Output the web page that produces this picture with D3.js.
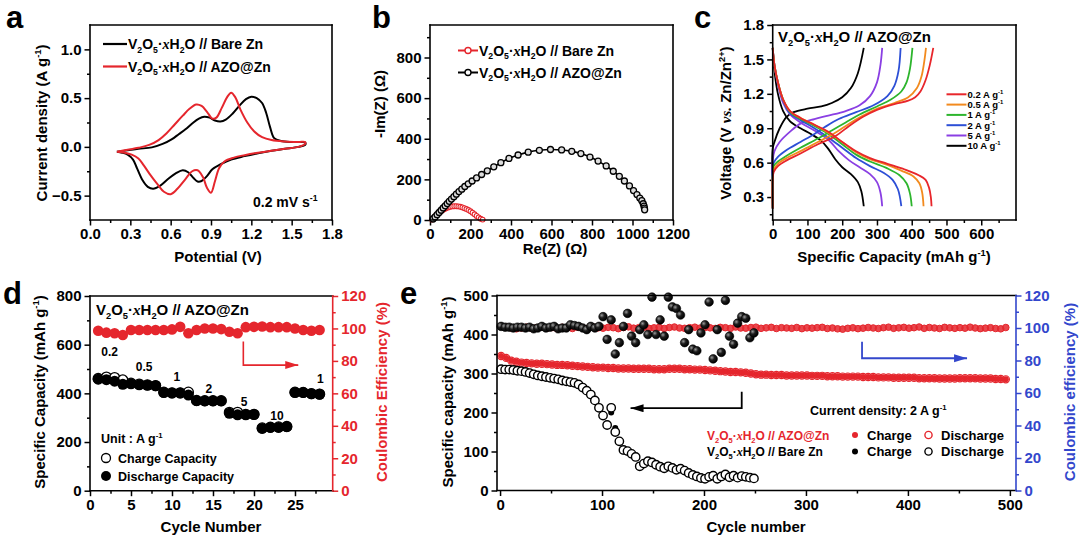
<!DOCTYPE html>
<html><head><meta charset="utf-8">
<script src="https://cdn.jsdelivr.net/npm/d3@7"></script>
<style>body{margin:0;background:#fff}</style>
</head><body>
<script>
// ---------------- DATA ----------------
// (a) cyclic voltammetry: [potential V, current A/g], forward then reverse sweep
const cvBareZn = [[0.20,-0.05],[0.28,-0.035],[0.36,-0.02],[0.46,-0.005],[0.54,0.03],[0.61,0.08],[0.66,0.13],[0.71,0.18],[0.76,0.24],[0.81,0.29],[0.85,0.31],[0.89,0.30],[0.93,0.27],[0.97,0.26],[1.01,0.28],[1.06,0.34],[1.11,0.42],[1.16,0.49],[1.20,0.515],[1.24,0.50],[1.28,0.45],[1.31,0.35],[1.34,0.20],[1.37,0.09],[1.42,0.06],[1.50,0.05],[1.56,0.05],[1.60,0.045],
  [1.60,0.02],[1.55,0.0],[1.45,-0.02],[1.35,-0.04],[1.25,-0.065],[1.15,-0.095],[1.05,-0.13],[0.97,-0.18],[0.91,-0.23],[0.87,-0.30],[0.83,-0.35],[0.80,-0.355],[0.77,-0.32],[0.73,-0.26],[0.69,-0.24],[0.64,-0.27],[0.58,-0.33],[0.52,-0.40],[0.47,-0.43],[0.43,-0.41],[0.39,-0.34],[0.35,-0.22],[0.32,-0.13],[0.28,-0.08],[0.24,-0.06],[0.20,-0.05]];
const cvAzoZn = [[0.20,-0.05],[0.28,-0.03],[0.36,-0.01],[0.44,0.02],[0.51,0.07],[0.57,0.14],[0.63,0.23],[0.69,0.32],[0.74,0.39],[0.79,0.435],[0.83,0.42],[0.87,0.36],[0.91,0.29],[0.94,0.30],[0.98,0.40],[1.02,0.51],[1.05,0.555],[1.08,0.51],[1.12,0.38],[1.17,0.25],[1.22,0.16],[1.28,0.10],[1.35,0.07],[1.45,0.055],[1.55,0.05],[1.60,0.05],
  [1.60,0.03],[1.55,0.0],[1.45,-0.02],[1.35,-0.04],[1.25,-0.06],[1.15,-0.085],[1.07,-0.11],[1.0,-0.15],[0.96,-0.22],[0.93,-0.35],[0.90,-0.47],[0.87,-0.42],[0.84,-0.31],[0.80,-0.24],[0.76,-0.25],[0.71,-0.33],[0.65,-0.43],[0.60,-0.485],[0.55,-0.46],[0.50,-0.38],[0.45,-0.29],[0.40,-0.19],[0.36,-0.12],[0.31,-0.08],[0.26,-0.06],[0.20,-0.05]];
const aXTicks = [0,0.3,0.6,0.9,1.2,1.5,1.8];
const aYTicks = [-0.5,0,0.5,1.0];

// (b) Nyquist: [Re(Z), -Im(Z)]
const eisBareZn = [[10,2],[20,12],[30,22],[40,32],[50,40],[60,47],[70,53],[80,58],[90,62],[100,65],[110,67],[120,68],[130,68],[140,67],[150,65],[160,62],[170,58],[180,54],[190,49],[200,43],[210,36],[220,28],[230,20],[240,13],[250,6],[260,2]];
const eisAzoZn = [[15,5],[25,15],[35,26],[45,37],[55,48],[65,59],[75,70],[85,81],[95,92],[106,103],[118,115],[130,127],[143,140],[157,152],[172,165],[189,178],[208,192],[230,207],[255,224],[283,242],[315,262],[350,282],[390,303],[435,320],[485,334],[540,343],[595,347],[650,345],[700,338],[745,327],[790,310],[830,290],[870,266],[905,240],[935,215],[960,192],[985,168],[1005,145],[1022,125],[1036,108],[1046,95],[1053,80],[1057,68],[1059,58],[1060,50]];
const bXTicks = [0,200,400,600,800,1000,1200];
const bYTicks = [0,200,400,600,800];

// (c) galvanostatic charge/discharge: [capacity mAh/g, voltage V]
const gcdLabels = ['0.2 A g^{-1}','0.5 A g^{-1}','1 A g^{-1}','2 A g^{-1}','5 A g^{-1}','10 A g^{-1}'];
const gcdColors = ['#e8262b','#f28a1e','#2db52d','#2d4fd6','#8a3fe3','#000000'];
const chg02 = [[0,0.2],[0,0.45],[3,0.52],[15,0.57],[40,0.62],[80,0.68],[130,0.76],[180,0.83],[220,0.92],[260,1.0],[300,1.06],[350,1.11],[390,1.14],[410,1.17],[425,1.22],[440,1.32],[452,1.45],[462,1.6]];
const chg05 = [[0,0.2],[0,0.47],[3,0.54],[15,0.59],[40,0.64],[80,0.70],[130,0.78],[180,0.86],[220,0.94],[260,1.01],[300,1.07],[350,1.12],[390,1.17],[415,1.25],[428,1.35],[436,1.48],[441,1.6]];
const chg1  = [[0,0.2],[0,0.5],[3,0.57],[15,0.61],[40,0.66],[80,0.73],[130,0.81],[170,0.88],[210,0.95],[250,1.02],[300,1.09],[340,1.15],[370,1.22],[385,1.3],[395,1.42],[402,1.6]];
const chg2  = [[0,0.2],[0,0.55],[3,0.6],[15,0.65],[40,0.71],[80,0.78],[120,0.85],[150,0.91],[190,0.98],[240,1.04],[290,1.1],[330,1.18],[350,1.27],[362,1.4],[368,1.6]];
const chg5  = [[0,0.2],[0,0.62],[5,0.7],[20,0.78],[50,0.87],[80,0.94],[120,0.98],[160,1.01],[210,1.05],[250,1.1],[280,1.18],[300,1.3],[310,1.45],[315,1.6]];
const chg10 = [[0,0.2],[0,0.72],[5,0.78],[20,0.9],[40,1.0],[60,1.04],[100,1.07],[140,1.09],[170,1.12],[200,1.17],[225,1.25],[245,1.38],[262,1.6]];
const dis02 = [[0,1.6],[5,1.45],[15,1.3],[30,1.15],[50,1.05],[80,0.99],[120,0.93],[160,0.87],[200,0.78],[240,0.7],[280,0.64],[330,0.59],[380,0.54],[420,0.49],[440,0.45],[450,0.38],[455,0.3],[457,0.22]];
const dis05 = [[0,1.6],[5,1.45],[15,1.3],[30,1.15],[50,1.05],[80,0.99],[120,0.93],[160,0.86],[200,0.78],[240,0.69],[280,0.63],[330,0.58],[370,0.53],[405,0.48],[422,0.42],[430,0.34],[434,0.22]];
const dis1  = [[0,1.6],[5,1.45],[15,1.3],[30,1.15],[50,1.04],[80,0.98],[120,0.92],[160,0.85],[200,0.76],[240,0.67],[280,0.61],[330,0.55],[365,0.49],[385,0.42],[395,0.33],[400,0.22]];
const dis2  = [[0,1.6],[5,1.45],[15,1.3],[30,1.14],[50,1.03],[80,0.97],[120,0.9],[160,0.82],[200,0.73],[240,0.64],[280,0.57],[320,0.51],[345,0.45],[360,0.37],[366,0.3],[370,0.22]];
const dis5  = [[0,1.6],[5,1.45],[15,1.28],[30,1.12],[50,1.02],[80,0.95],[120,0.88],[160,0.8],[190,0.7],[220,0.62],[250,0.56],[280,0.5],[300,0.43],[310,0.34],[315,0.22]];
const dis10 = [[0,1.6],[5,1.4],[15,1.2],[30,1.05],[50,0.96],[80,0.9],[110,0.85],[140,0.79],[160,0.72],[180,0.63],[200,0.56],[225,0.5],[245,0.43],[255,0.35],[262,0.22]];
const cXTicks = [0,100,200,300,400,500,600];
const cYTicks = [0.3,0.6,0.9,1.2,1.5,1.8];

// (d) rate performance
const dCycles    = [1,2,3,4,5,6,7,8,9,10,11,12,13,14,15,16,17,18,19,20,21,22,23,24,25,26,27,28];
const dCharge    = [461,467,465,455,442,438,435,432,405,402,402,405,371,370,370,370,322,322,314,314,258,261,262,264,405,404,399,397];
const dDischarge = [458,456,450,437,439,435,433,431,403,401,401,393,370,369,369,369,318,312,312,313,256,260,260,263,403,403,398,396];
const dCE        = [98.6,97.4,97,96,99,99,99,99,99,99.4,101,97,99,100,100,99.6,98,97,100.8,101,101.2,100.8,100.8,100.8,100,99,98.6,99];
const dRateText  = ['0.2','0.5','1','2','5','10','1'];
const dRateCycle = [2.4,6.6,10.6,14.5,18.8,22.8,28.1];
const dRateCap   = [553,492,451,401,348,290,442];
const dXTicks = [0,5,10,15,20,25];
const dYTicks = [0,200,400,600,800];
const dY2Ticks = [0,20,40,60,80,100,120];

// (e) long cycling at 2 A/g
const eAzoStep = 5;   // AZO@Zn sampled every 5 cycles from cycle 1
const eAzoCap = [345,340,333,330,328,327,326,325,325,324, 323,322,322,321,320,319,318,317,316,315, 315,314,314,313,313,313,312,312,312,312,
  311,311,311,312,312,312,311,311,310,310, 309,308,307,306,305,304,304,303,302,300, 298,297,297,296,296,296,295,295,295,295,
  295,294,294,294,293,293,293,292,292,292, 292,291,291,291,290,290,290,289,289,289, 289,289,288,288,288,288,287,287,287,287,
  288,288,288,288,287,287,287,286,286,285];
const eAzoCE = [101,100.5,100,99.5,100,100.5,99.8,100.2,100.6,99.9, 100.3,99.6,100.4,100.1,99.7,100.5,100.2,99.8,100.6,100.1,
  99.9,100.4,100.2,99.6,100.3,100.7,99.9,100.2,100.5,99.8, 100.1,100.4,99.7,100.3,100.6,100.0,99.8,100.2,100.5,99.9,
  100.3,100.1,99.7,100.4,100.2,99.8,100.6,100.0,99.9,100.3, 100.5,99.8,100.1,100.4,99.7,100.2,100.0,99.8,100.3,99.6,
  100.1,99.9,100.2,100.4,99.7,100.0,99.5,99.3,99.8,100.1, 99.6,99.9,100.3,100.0,99.7,100.2,100.5,99.8,100.1,100.4,
  99.9,100.2,100.6,99.8,100.3,100.0,99.7,100.4,100.1,99.8, 100.2,99.9,100.5,100.0,99.6,99.9,100.2,99.7,99.5,100.3];
const eBareStep = 4;  // Bare Zn sampled every 4 cycles from cycle 1
const eBareCap = [311,310,310,309,307,306,304,301,298,295, 293,291,289,287,285,282,280,278,276,272,
  264,256,246,231,212,192,168,212,150,126, 104,101,94,86,62,69,75,72,66,61,
  57,62,58,53,56,51,45,40,36,32, 30,35,38,30,36,41,34,38,33,37, 35,33,31];
const eBareChargeCap = [312,311,310,309,308,306,305,302,298,296, 293,291,290,287,285,283,280,278,276,272,
  265,257,247,232,213,190,166,200,160,128, 100,104,95,88,64,70,74,72,65,60,
  57,61,58,54,55,50,44,41,36,33, 31,34,37,31,36,40,35,37,33,36, 35,32,31];
const eBareCE = [101,100.5,100.5,100,100.5,100.5,100,100.5,99.5,100, 101,100,100.5,101,99.5,100,100,102,101.5,101,
  100,99,101,100,101,107,93,105,84,91, 101,109,95,91,99,102,96,119,96,105,
  95,119,113,112,108,91,99,87,86,97, 102,116,81,99,85,117,95,90,103,107, 106,94,97];
const eXTicks = [0,100,200,300,400,500];
const eYTicks = [0,100,200,300,400,500];
const eY2Ticks = [0,20,40,60,80,100,120];

// ---------------- DRAWING ----------------
const W = 1080, H = 542;
const FONT = "'Liberation Sans', Arial, Helvetica, sans-serif";
const RED = '#e5262d', BLUE = '#3347cc';
const svg = d3.select('body').append('svg').attr('width', W).attr('height', H);
svg.append('rect').attr('width', W).attr('height', H).attr('fill', '#fff');

const defs = svg.append('defs');
[['arrK','#000'],['arrR',RED],['arrB',BLUE]].forEach(([id,c]) => {
  defs.append('marker').attr('id', id).attr('markerUnits','userSpaceOnUse')
    .attr('markerWidth', 14).attr('markerHeight', 10).attr('refX', 13).attr('refY', 4).attr('orient','auto')
    .append('path').attr('d','M0,0 L13,4 L0,8 Z').attr('fill', c);
});
const grad = defs.append('radialGradient').attr('id','sphere').attr('cx','35%').attr('cy','35%').attr('r','65%');
grad.append('stop').attr('offset','0%').attr('stop-color','#9a9a9a');
grad.append('stop').attr('offset','45%').attr('stop-color','#1e1e1e');
grad.append('stop').attr('offset','100%').attr('stop-color','#000');

function rich(g, x, y, str, o = {}) {
  const size = o.size || 15;
  const t = g.append('text').attr('x', x).attr('y', y).attr('font-family', FONT)
    .attr('font-weight', o.weight || 'bold').attr('font-size', size).attr('fill', o.fill || '#000')
    .attr('text-anchor', o.anchor || 'start');
  if (o.rotate) t.attr('transform', `rotate(${o.rotate},${x},${y})`);
  const parts = str.split(/(_\{[^}]*\}|\^\{[^}]*\}|<i>[^<]*<\/i>)/).filter(s => s.length);
  let shift = 0;
  for (const p of parts) {
    let type = 'n', s = p;
    if (p.startsWith('_{')) { type = 'sub'; s = p.slice(2, -1); }
    else if (p.startsWith('^{')) { type = 'sup'; s = p.slice(2, -1); }
    else if (p.startsWith('<i>')) { type = 'it'; s = p.slice(3, -4); }
    const target = type === 'sub' ? size * 0.28 : type === 'sup' ? -size * 0.42 : 0;
    const ts = t.append('tspan').text(s);
    if (target - shift !== 0) ts.attr('dy', target - shift);
    shift = target;
    if (type === 'sub' || type === 'sup') ts.attr('font-size', size * 0.62);
    if (type === 'it') ts.attr('font-style', 'italic').attr('font-family', "'Liberation Serif', 'Times New Roman', serif");
  }
  return t;
}

function axis(g, scale, orient, pos, major, minor, fmt, color = '#000', size = 15) {
  const gen = orient === 'left' ? d3.axisLeft : orient === 'right' ? d3.axisRight : d3.axisBottom;
  const tr = orient === 'bottom' ? `translate(0,${pos})` : `translate(${pos},0)`;
  const m = g.append('g').attr('transform', tr).call(gen(scale).tickValues(minor).tickSize(3).tickFormat(''));
  m.select('.domain').remove();
  m.selectAll('line').attr('stroke', color).attr('stroke-width', 1.5);
  const a = g.append('g').attr('transform', tr).call(gen(scale).tickValues(major).tickSize(5.5).tickPadding(3).tickFormat(fmt));
  a.select('.domain').remove();
  a.selectAll('line').attr('stroke', color).attr('stroke-width', 1.5);
  a.selectAll('text').attr('font-family', FONT).attr('font-weight', 'bold').attr('font-size', size).attr('fill', color);
}
function box(g, x, y, col = {}) {
  const [x0, x1] = x.range(), [y0, y1] = y.range();
  const seg = (a, b, c, d, s) => g.append('line').attr('x1', a).attr('y1', b).attr('x2', c).attr('y2', d)
    .attr('stroke', s).attr('stroke-width', 1.6).attr('stroke-linecap','square');
  seg(x0, y1, x1, y1, col.top || '#000');
  seg(x0, y0, x1, y0, col.bottom || '#000');
  seg(x0, y0, x0, y1, col.left || '#000');
  seg(x1, y0, x1, y1, col.right || '#000');
}
function panelLabel(x, y, s) {
  svg.append('text').attr('x', x).attr('y', y).text(s).attr('font-family', FONT)
    .attr('font-weight', 'bold').attr('font-size', 31).attr('fill', '#000');
}
const f1 = d3.format('.1f'), f0 = d3.format('d');
const range = (a, b, s) => d3.range(a, b + 1e-9, s);

// ===== Panel a =====
{
  const g = svg.append('g');
  const x = d3.scaleLinear([0, 1.8], [90, 332]);
  const y = d3.scaleLinear([-0.75, 1.25], [220, 25]);
  axis(g, x, 'bottom', 220, aXTicks, range(0.15, 1.65, 0.3), f1);
  axis(g, y, 'left', 90, aYTicks, [-0.25, 0.25, 0.75], f1);
  const line = d3.line().x(d => x(d[0])).y(d => y(d[1])).curve(d3.curveCatmullRom.alpha(0.5));
  g.append('path').attr('d', line(cvBareZn)).attr('fill','none').attr('stroke','#000').attr('stroke-width',2);
  g.append('path').attr('d', line(cvAzoZn)).attr('fill','none').attr('stroke',RED).attr('stroke-width',2);
  box(g, x, y);
  [['V_{2}O_{5}·<i>x</i>H_{2}O // Bare Zn','#000',44],['V_{2}O_{5}·<i>x</i>H_{2}O // AZO@Zn',RED,66.5]].forEach(([t,c,yy]) => {
    g.append('line').attr('x1',103).attr('x2',127).attr('y1',yy).attr('y2',yy).attr('stroke',c).attr('stroke-width',2.2);
    rich(g, 128, yy + 5, t, {size: 14});
  });
  rich(g, 253, 207, '0.2 mV s^{-1}', {size: 14});
  rich(g, 218, 262, 'Potential (V)', {anchor:'middle'});
  rich(g, 47, 123, 'Current density (A g^{-1})', {anchor:'middle', rotate:-90});
  panelLabel(6, 28, 'a');
}

// ===== Panel b =====
{
  const g = svg.append('g');
  const x = d3.scaleLinear([0, 1200], [430, 673]);
  const y = d3.scaleLinear([0, 960], [220, 25]);
  axis(g, x, 'bottom', 220, bXTicks, range(100, 1100, 200), f0);
  axis(g, y, 'left', 430, bYTicks, range(100, 900, 200), f0);
  const line = d3.line().x(d => x(d[0])).y(d => y(d[1])).curve(d3.curveCatmullRom.alpha(0.5));
  g.append('path').attr('d', line(eisBareZn)).attr('fill','none').attr('stroke',RED).attr('stroke-width',1.5);
  g.selectAll('.rb').data(eisBareZn).join('circle').attr('cx', d => x(d[0])).attr('cy', d => y(d[1])).attr('r', 2.4)
    .attr('fill','#fff').attr('stroke',RED).attr('stroke-width',1.1);
  g.append('path').attr('d', line(eisAzoZn)).attr('fill','none').attr('stroke','#000').attr('stroke-width',1.6);
  g.selectAll('.kb').data(eisAzoZn).join('circle').attr('cx', d => x(d[0])).attr('cy', d => y(d[1])).attr('r', 3)
    .attr('fill','#ddd').attr('stroke','#000').attr('stroke-width',1.3);
  box(g, x, y);
  [['V_{2}O_{5}·<i>x</i>H_{2}O // Bare Zn',RED,50.5],['V_{2}O_{5}·<i>x</i>H_{2}O // AZO@Zn','#000',72.5]].forEach(([t,c,yy]) => {
    g.append('line').attr('x1',458).attr('x2',478).attr('y1',yy).attr('y2',yy).attr('stroke',c).attr('stroke-width',2);
    g.append('circle').attr('cx',468).attr('cy',yy).attr('r',3).attr('fill','#fff').attr('stroke',c).attr('stroke-width',1.4);
    rich(g, 479, yy + 5, t, {size: 14});
  });
  rich(g, 555, 254, 'Re(Z) (Ω)', {anchor:'middle'});
  rich(g, 385, 104, '-Im(Z) (Ω)', {anchor:'middle', rotate:-90});
  panelLabel(372, 28, 'b');
}

// ===== Panel c =====
{
  const g = svg.append('g');
  const x = d3.scaleLinear([0, 700], [772.7, 1016]);
  const y = d3.scaleLinear([0.1, 1.8], [220, 25]);
  axis(g, x, 'bottom', 220, cXTicks, range(50, 650, 100), f0);
  axis(g, y, 'left', 772.7, cYTicks, range(0.15, 1.65, 0.3), f1);
  const line = d3.line().x(d => x(d[0])).y(d => y(d[1])).curve(d3.curveCatmullRom.alpha(0.5));
  const chg = [chg02, chg05, chg1, chg2, chg5, chg10];
  const dis = [dis02, dis05, dis1, dis2, dis5, dis10];
  for (let i = 5; i >= 0; i--) {
    g.append('path').attr('d', line(chg[i])).attr('fill','none').attr('stroke',gcdColors[i]).attr('stroke-width',1.8);
    g.append('path').attr('d', line(dis[i])).attr('fill','none').attr('stroke',gcdColors[i]).attr('stroke-width',1.8);
  }
  box(g, x, y);
  gcdLabels.forEach((t, i) => {
    const yy = 94.3 + i * 10.3;
    g.append('line').attr('x1',946.5).attr('x2',966.5).attr('y1',yy).attr('y2',yy).attr('stroke',gcdColors[i]).attr('stroke-width',2);
    rich(g, 967.5, yy + 3.5, t, {size: 9.5});
  });
  rich(g, 778, 42, 'V_{2}O_{5}·<i>x</i>H_{2}O // AZO@Zn', {size: 15});
  rich(g, 894, 262, 'Specific Capacity (mAh g^{-1})', {anchor:'middle'});
  rich(g, 731, 123, 'Voltage (V <i>vs.</i> Zn/Zn^{2+})', {anchor:'middle', rotate:-90});
  panelLabel(694, 28, 'c');
}

// ===== Panel d =====
{
  const g = svg.append('g');
  const x = d3.scaleLinear([0, 29.6], [90, 332.7]);
  const y = d3.scaleLinear([0, 800], [490.7, 296]);
  const y2 = d3.scaleLinear([0, 120], [490.7, 296]);
  axis(g, x, 'bottom', 490.7, dXTicks, range(2.5, 27.5, 5), f0);
  axis(g, y, 'left', 90, dYTicks, range(100, 700, 200), f0);
  axis(g, y2, 'right', 332.7, dY2Ticks, range(10, 110, 20), f0, RED);
  box(g, x, y, {right: RED});
  g.selectAll('.ce').data(dCycles).join('circle').attr('cx', d => x(d)).attr('cy', (d, i) => y2(dCE[i])).attr('r', 5.3).attr('fill', RED);
  g.selectAll('.ch').data(dCycles).join('circle').attr('cx', d => x(d)).attr('cy', (d, i) => y(dCharge[i])).attr('r', 5)
    .attr('fill','#fff').attr('stroke','#000').attr('stroke-width',1.3);
  g.selectAll('.dc').data(dCycles).join('circle').attr('cx', d => x(d)).attr('cy', (d, i) => y(dDischarge[i])).attr('r', 5.5).attr('fill','#000');
  dRateText.forEach((t, i) => {
    g.append('text').attr('x', x(dRateCycle[i])).attr('y', y(dRateCap[i])).text(t).attr('text-anchor','middle')
      .attr('font-family', FONT).attr('font-weight','bold').attr('font-size', 12);
  });
  const ar = d3.line().x(d => x(d[0])).y(d => y2(d[1]));
  g.append('path').attr('d', ar([[18.7, 92],[18.7, 77.4],[25.4, 77.4]])).attr('fill','none').attr('stroke',RED).attr('stroke-width',1.6).attr('marker-end','url(#arrR)');
  rich(g, 96, 315, 'V_{2}O_{5}·<i>x</i>H_{2}O // AZO@Zn', {size: 15});
  rich(g, 101, 443, 'Unit : A g^{-1}', {size: 12.5});
  g.append('circle').attr('cx',106).attr('cy',458).attr('r',4.5).attr('fill','#fff').attr('stroke','#000').attr('stroke-width',1.3);
  rich(g, 118, 462.5, 'Charge Capacity', {size: 12.5});
  g.append('circle').attr('cx',106).attr('cy',476).attr('r',5).attr('fill','#000');
  rich(g, 118, 480.5, 'Discharge Capacity', {size: 12.5});
  rich(g, 211, 532, 'Cycle Number', {anchor:'middle'});
  rich(g, 45, 392, 'Specific Capacity (mAh g^{-1})', {anchor:'middle', rotate:-90});
  rich(g, 387, 392, 'Coulombic Efficiency (%)', {anchor:'middle', rotate:-90, fill: RED});
  panelLabel(3, 304, 'd');
}

// ===== Panel e =====
{
  const g = svg.append('g');
  const x = d3.scaleLinear([-3, 506], [497, 1016]);
  const y = d3.scaleLinear([0, 500], [490.5, 295.5]);
  const y2 = d3.scaleLinear([0, 120], [490.5, 295.5]);
  axis(g, x, 'bottom', 490.5, eXTicks, range(50, 450, 100), f0);
  axis(g, y, 'left', 497, eYTicks, range(50, 450, 100), f0);
  axis(g, y2, 'right', 1016, eY2Ticks, range(10, 110, 20), f0, BLUE);
  const azoCyc = eAzoCap.map((d, i) => 1 + i * eAzoStep);
  const bareCyc = eBareCap.map((d, i) => 1 + i * eBareStep);
  // AZO@Zn CE
  g.selectAll('.ace').data(eAzoCE).join('circle').attr('cx', (d, i) => x(azoCyc[i])).attr('cy', d => y2(d)).attr('r', 3.3)
    .attr('fill', RED).attr('stroke', RED).attr('stroke-width', 1).attr('fill-opacity', 0.85);
  // AZO@Zn capacity (charge filled, discharge open)
  g.selectAll('.acc').data(eAzoCap).join('circle').attr('cx', (d, i) => x(azoCyc[i])).attr('cy', d => y(d)).attr('r', 3).attr('fill', RED);
  g.selectAll('.acd').data(eAzoCap).join('circle').attr('cx', (d, i) => x(azoCyc[i])).attr('cy', d => y(d)).attr('r', 3.6)
    .attr('fill', 'none').attr('stroke', RED).attr('stroke-width', 1.2);
  // Bare Zn CE
  g.selectAll('.bce').data(eBareCE).join('circle').attr('cx', (d, i) => x(bareCyc[i])).attr('cy', d => y2(d)).attr('r', 4.3)
    .attr('fill', 'url(#sphere)').attr('stroke', '#000').attr('stroke-width', 0.6);
  // Bare Zn capacity
  g.selectAll('.bcc').data(eBareChargeCap).join('circle').attr('cx', (d, i) => x(bareCyc[i])).attr('cy', d => y(d)).attr('r', 3).attr('fill', '#000');
  g.selectAll('.bcd').data(eBareCap).join('circle').attr('cx', (d, i) => x(bareCyc[i])).attr('cy', d => y(d)).attr('r', 4.2)
    .attr('fill', '#fff').attr('stroke', '#000').attr('stroke-width', 1.4);
  box(g, x, y, {right: BLUE});
  const ak = d3.line().x(d => x(d[0])).y(d => y(d[1]));
  g.append('path').attr('d', ak([[237, 253],[237, 211],[128, 211]])).attr('fill','none').attr('stroke','#000').attr('stroke-width',1.8).attr('marker-end','url(#arrK)');
  const ab = d3.line().x(d => x(d[0])).y(d => y2(d[1]));
  g.append('path').attr('d', ab([[355, 91.6],[355, 81.4],[458, 81.4]])).attr('fill','none').attr('stroke',BLUE).attr('stroke-width',1.8).attr('marker-end','url(#arrB)');
  rich(g, 810, 415, 'Current density: 2 A g^{-1}', {size: 12.5});
  rich(g, 707, 439.5, 'V_{2}O_{5}·<i>x</i>H_{2}O // AZO@Zn', {size: 12, fill: RED});
  rich(g, 707, 456, 'V_{2}O_{5}·<i>x</i>H_{2}O // Bare Zn', {size: 12, fill: '#000'});
  [[435, RED],[451.5, '#000']].forEach(([yy, c]) => {
    g.append('circle').attr('cx', 855).attr('cy', yy).attr('r', 3).attr('fill', c);
    rich(g, 867, yy + 4.5, 'Charge', {size: 13});
    g.append('circle').attr('cx', 928.5).attr('cy', yy).attr('r', 3.6).attr('fill', 'none').attr('stroke', c).attr('stroke-width', 1.4);
    rich(g, 941, yy + 4.5, 'Discharge', {size: 13});
  });
  rich(g, 756, 532, 'Cycle number', {anchor:'middle'});
  rich(g, 453, 392, 'Specific capacity (mAh g^{-1})', {anchor:'middle', rotate:-90});
  rich(g, 1075, 392, 'Coulombic efficiency (%)', {anchor:'middle', rotate:-90, fill: BLUE});
  panelLabel(400, 304, 'e');
}
</script>
</body></html>
